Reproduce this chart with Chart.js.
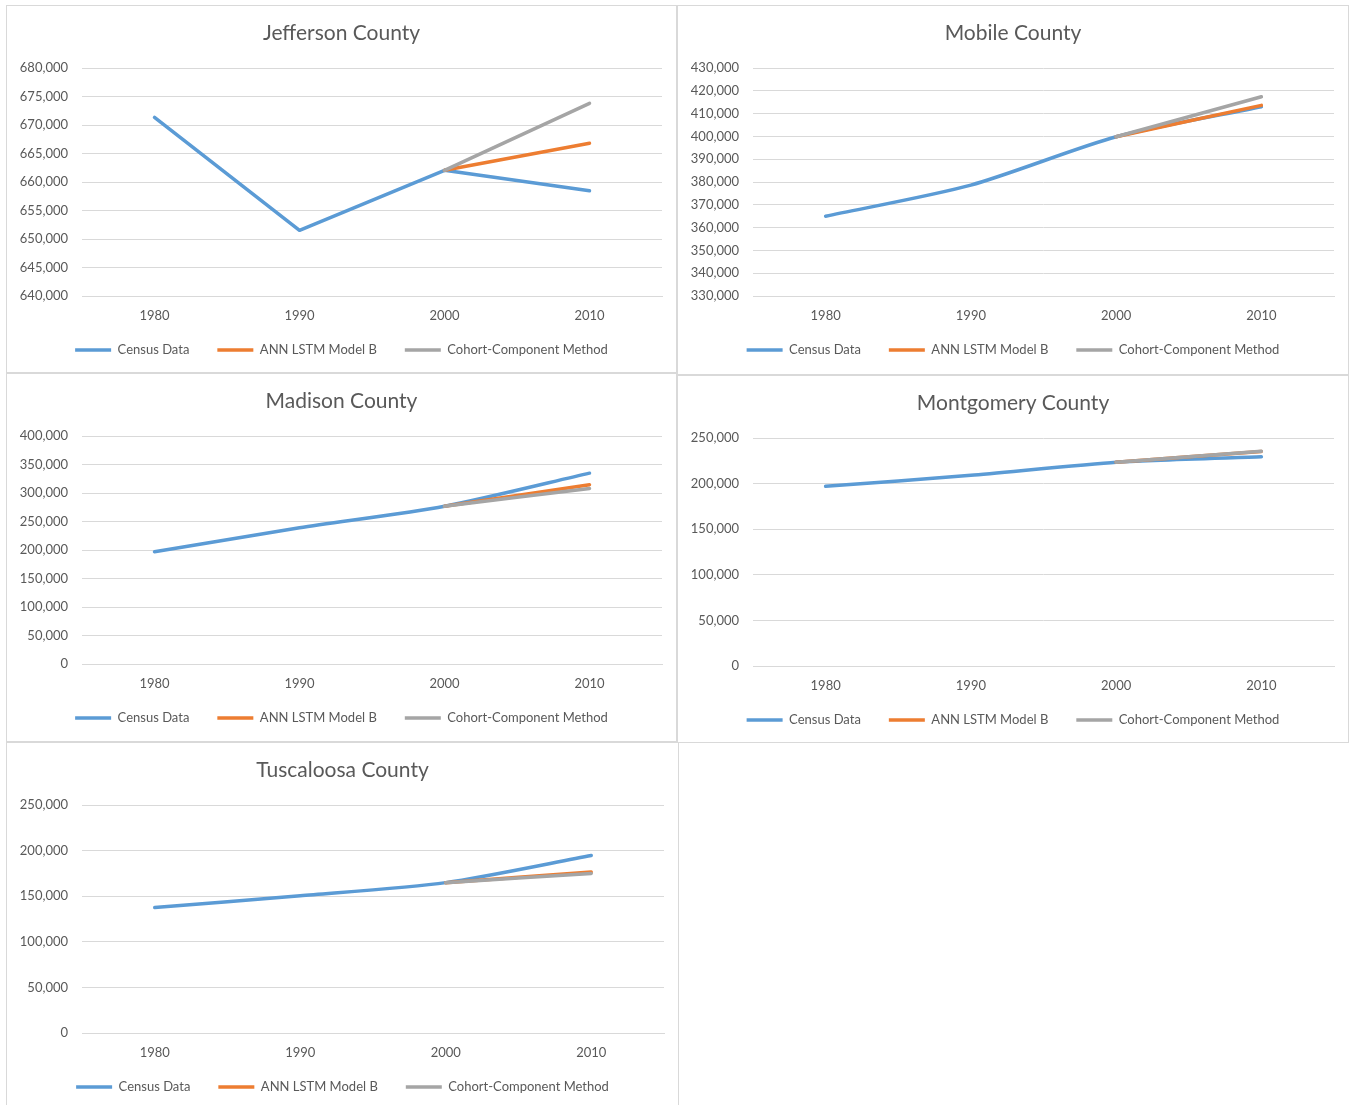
<!DOCTYPE html>
<html>
<head>
<meta charset="utf-8">
<script src="https://cdn.jsdelivr.net/npm/chart.js@4.4.1/dist/chart.umd.min.js"></script>
<style>
  body { margin: 0; background: #fff; }
  .panel { position: absolute; outline: 1px solid #d9d9d9; outline-offset: -1px; background: #fff; }
  .panel canvas { position: absolute; left: 0; top: 0; }
</style>
</head>
<body>
<div class="panel" style="left:6px;top:5px;width:671px;height:368px"><canvas id="jefferson" width="671" height="368"></canvas></div>
<div class="panel" style="left:677px;top:5px;width:672px;height:370px"><canvas id="mobile" width="672" height="370"></canvas></div>
<div class="panel" style="left:6px;top:373px;width:671px;height:369px"><canvas id="madison" width="671" height="369"></canvas></div>
<div class="panel" style="left:677px;top:375px;width:672px;height:368px"><canvas id="montgomery" width="672" height="368"></canvas></div>
<div class="panel" style="left:6px;top:742px;width:673px;height:370px"><canvas id="tuscaloosa" width="673" height="370"></canvas></div>
<script>
const years = ["1980", "1990", "2000", "2010"];
const seriesNames = ["Census Data", "ANN LSTM Model B", "Cohort-Component Method"];

const jeffersonCensus = [671324, 651525, 662047, 658466];
const jeffersonAnn = [null, null, 662047, 666800];
const jeffersonCohort = [null, null, 662047, 673800];

const mobileCensus = [364980, 378643, 399843, 412992];
const mobileAnn = [null, null, 399843, 413600];
const mobileCohort = [null, null, 399843, 417400];

const madisonCensus = [196966, 238912, 276700, 334811];
const madisonAnn = [null, null, 276700, 314500];
const madisonCohort = [null, null, 276700, 308000];

const montgomeryCensus = [197038, 209085, 223510, 229363];
const montgomeryAnn = [null, null, 223510, 235300];
const montgomeryCohort = [null, null, 223510, 235600];

const tuscaloosaCensus = [137541, 150522, 164875, 194656];
const tuscaloosaAnn = [null, null, 164875, 176500];
const tuscaloosaCohort = [null, null, 164875, 175000];

const jeffersonTicks = { min: 640000, max: 680000, step: 5000 };
const mobileTicks = { min: 330000, max: 430000, step: 10000 };
const madisonTicks = { min: 0, max: 400000, step: 50000 };
const montgomeryTicks = { min: 0, max: 250000, step: 50000 };
const tuscaloosaTicks = { min: 0, max: 250000, step: 50000 };

const colors = ["#5B9BD5", "#ED7D31", "#A5A5A5"];
const textColor = "#595959";
const gridColor = "#d9d9d9";
const fontFamily = "Lato, 'Open Sans', sans-serif";

const makeDataset = (label, data, idx, tension) => ({
  label: label,
  data: data,
  borderColor: colors[idx],
  backgroundColor: colors[idx],
  borderWidth: 3.5,
  borderCapStyle: "round",
  borderJoinStyle: "round",
  pointRadius: 0,
  pointHoverRadius: 0,
  tension: tension,
  // Excel draws the last series on top
  order: 3 - idx,
});

// legend padding is used both ways, pull the legend row up a bit
const legendShift = {
  id: "legendShift",
  afterLayout(chart) {
    chart.legend.top -= 8.5;
    chart.legend.bottom -= 8.5;
  },
};

const makeChart = (id, title, census, ann, cohort, ticks, tension) => {
  const canvas = document.getElementById(id);
  const h = canvas.height;
  new Chart(canvas.getContext("2d"), {
    type: "line",
    data: {
      labels: years,
      datasets: [
        makeDataset(seriesNames[0], census, 0, tension),
        makeDataset(seriesNames[1], ann, 1, tension),
        makeDataset(seriesNames[2], cohort, 2, tension),
      ],
    },
    options: {
      responsive: false,
      animation: false,
      layout: { padding: { top: 0, left: 0, right: 0, bottom: Math.max(0, h - 364) } },
      scales: {
        x: {
          offset: true,
          grid: { display: false, drawTicks: false },
          border: { color: gridColor, width: 1 },
          ticks: { color: textColor, padding: 12, font: { family: fontFamily, size: 13 } },
          afterFit(scale) {
            scale.height = 28;
          },
        },
        y: {
          min: ticks.min,
          max: ticks.max,
          grid: { color: gridColor, drawTicks: false },
          border: { display: false },
          ticks: {
            stepSize: ticks.step,
            color: textColor,
            padding: 14,
            font: { family: fontFamily, size: 13 },
            callback: (v) => v.toLocaleString("en-US"),
          },
          afterFit(scale) {
            scale.width = 76;
          },
        },
        pad: {
          type: "linear",
          position: "right",
          grid: { display: false },
          border: { display: false },
          ticks: { display: false },
          afterFit(scale) {
            scale.width = 15;
          },
        },
      },
      plugins: {
        tooltip: { enabled: false },
        title: {
          display: true,
          text: title,
          color: textColor,
          font: { family: fontFamily, size: 21, weight: "normal", lineHeight: 1.2 },
          padding: { top: 15.4, bottom: 22.4 },
        },
        legend: {
          position: "bottom",
          maxHeight: 45,
          labels: {
            usePointStyle: true,
            pointStyle: "line",
            pointStyleWidth: 36,
            padding: 28,
            color: textColor,
            font: { family: fontFamily, size: 13 },
            sort: (a, b) => a.datasetIndex - b.datasetIndex,
          },
        },
      },
    },
    plugins: [legendShift],
  });
};

makeChart("jefferson", "Jefferson County", jeffersonCensus, jeffersonAnn, jeffersonCohort, jeffersonTicks, 0);
makeChart("mobile", "Mobile County", mobileCensus, mobileAnn, mobileCohort, mobileTicks, 0.25);
makeChart("madison", "Madison County", madisonCensus, madisonAnn, madisonCohort, madisonTicks, 0.25);
makeChart("montgomery", "Montgomery County", montgomeryCensus, montgomeryAnn, montgomeryCohort, montgomeryTicks, 0.2);
makeChart("tuscaloosa", "Tuscaloosa County", tuscaloosaCensus, tuscaloosaAnn, tuscaloosaCohort, tuscaloosaTicks, 0.25);
</script>
</body>
</html>
